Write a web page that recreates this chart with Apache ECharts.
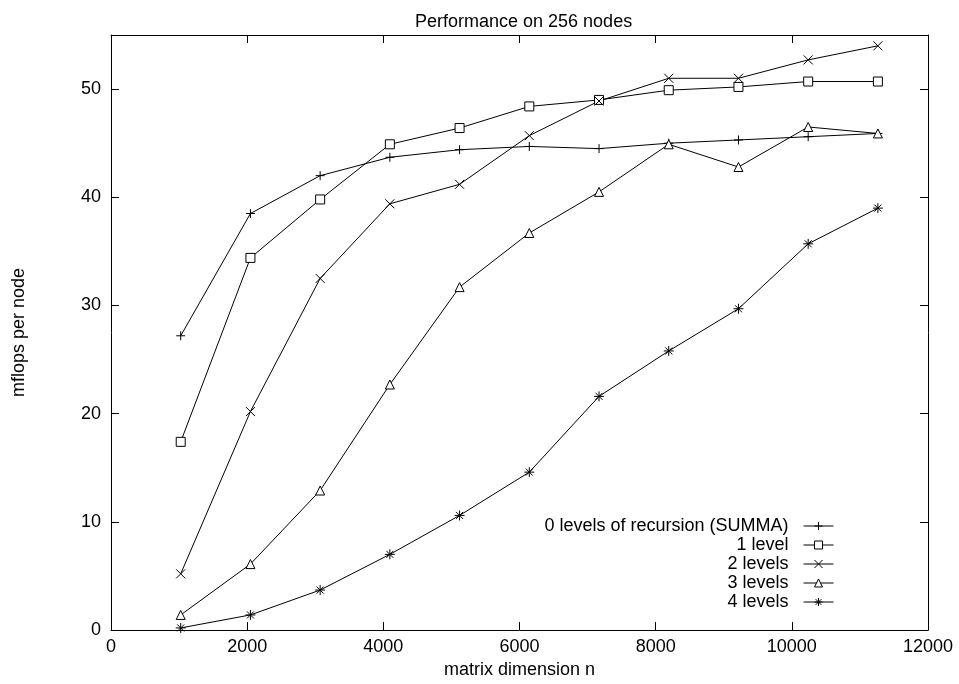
<!DOCTYPE html>
<html>
<head>
<meta charset="utf-8">
<script src="https://cdn.jsdelivr.net/npm/echarts@6/dist/echarts.min.js"></script>
<style>
  html, body { margin: 0; padding: 0; background: #fff; }
  #chart { width: 959px; height: 684px; }
</style>
</head>
<body>
<div id="chart"></div>
<script>
// matrix dimension n
var sizes = [1024, 2048, 3072, 4096, 5120, 6144, 7168, 8192, 9216, 10240, 11264];
// mflops per node
var level0 = [27.2, 38.5, 42.0, 43.7, 44.4, 44.7, 44.5, 45.0, 45.3, 45.6, 45.9];
var level1 = [17.4, 34.4, 39.8, 44.9, 46.4, 48.4, 49.0, 49.9, 50.2, 50.7, 50.7];
var level2 = [5.2, 20.2, 32.5, 39.4, 41.2, 45.7, 48.9, 51.0, 51.0, 52.7, 54.0];
var level3 = [1.4, 6.1, 12.9, 22.7, 31.7, 36.7, 40.5, 44.9, 42.8, 46.5, 45.9];
var level4 = [0.2, 1.4, 3.7, 7.0, 10.6, 14.6, 21.6, 25.8, 29.7, 35.7, 39.0];
var seriesNames = ['0 levels of recursion (SUMMA)', '1 level', '2 levels', '3 levels', '4 levels'];

var font = 'Liberation Sans, Arial, Helvetica, sans-serif';
var fs = 18;

function pts(vals) {
  return sizes.map(function (n, i) { return [n, vals[i]]; });
}

// gnuplot-like point types
var symPlus = 'path://M0,5L10,5M5,0L5,10';
var symSquare = 'path://M0,0L10,0L10,10L0,10Z';
var symCross = 'path://M0,0L10,10M10,0L0,10';
var symTri = 'path://M5,0L10,9L0,9Z';
var symStar = 'path://M0,5L10,5M5,0L5,10M1.5,1.5L8.5,8.5M8.5,1.5L1.5,8.5';

function mkSeries(name, vals, symbol, size, fill) {
  return {
    name: name,
    type: 'line',
    data: pts(vals),
    symbol: symbol,
    symbolSize: size,
    showAllSymbol: true,
    lineStyle: { color: '#000', width: 1 },
    itemStyle: { color: fill, borderColor: '#000', borderWidth: 1 },
    emphasis: { disabled: true },
    animation: false
  };
}

var tickCommon = { inside: true, length: 8, lineStyle: { color: '#000', width: 1 } };
var lineCommon = { show: true, onZero: false, lineStyle: { color: '#000', width: 1 } };

var chart = echarts.init(document.getElementById('chart'));
var option = {
  backgroundColor: '#fff',
  animation: false,
  title: {
    text: 'Performance on 256 nodes',
    left: 410,
    top: 8,
    textStyle: { fontFamily: font, fontSize: fs, fontWeight: 'normal', color: '#000' }
  },
  legend: {
    orient: 'vertical',
    right: 120,
    top: 512,
    align: 'right',
    itemWidth: 30,
    itemHeight: 10,
    itemGap: 1,
    data: seriesNames,
    lineStyle: { width: 1 },
    itemStyle: { borderWidth: 1 },
    textStyle: { fontFamily: font, fontSize: fs, color: '#000', padding: [0, 10, 0, 0] }
  },
  grid: { left: 111, right: 31, top: 35, bottom: 51 },
  xAxis: [{
    type: 'value',
    min: 0,
    max: 12000,
    interval: 2000,
    name: 'matrix dimension n',
    nameLocation: 'middle',
    nameGap: 27,
    nameTextStyle: { fontFamily: font, fontSize: fs, color: '#000' },
    axisLine: lineCommon,
    axisTick: tickCommon,
    axisLabel: {
      fontFamily: font, fontSize: fs, color: '#000', margin: 8,
      formatter: function (v) { return String(v); }
    },
    splitLine: { show: false }
  }, {
    type: 'value',
    position: 'top',
    min: 0,
    max: 12000,
    interval: 2000,
    axisLine: lineCommon,
    axisTick: tickCommon,
    axisLabel: { show: false },
    splitLine: { show: false }
  }],
  yAxis: [{
    type: 'value',
    min: 0,
    max: 55,
    interval: 10,
    name: 'mflops per node',
    nameLocation: 'middle',
    nameGap: 83,
    nameTextStyle: { fontFamily: font, fontSize: fs, color: '#000' },
    axisLine: lineCommon,
    axisTick: tickCommon,
    axisLabel: {
      fontFamily: font, fontSize: fs, color: '#000', margin: 10,
      formatter: function (v) { return v % 10 === 0 ? String(v) : ''; }
    },
    splitLine: { show: false }
  }, {
    type: 'value',
    position: 'right',
    min: 0,
    max: 55,
    interval: 10,
    axisLine: lineCommon,
    axisTick: tickCommon,
    axisLabel: { show: false },
    splitLine: { show: false }
  }],
  series: [
    mkSeries(seriesNames[0], level0, symPlus, 9, '#000'),
    mkSeries(seriesNames[1], level1, symSquare, 9, '#fff'),
    mkSeries(seriesNames[2], level2, symCross, 9, '#000'),
    mkSeries(seriesNames[3], level3, symTri, 9, '#fff'),
    mkSeries(seriesNames[4], level4, symStar, 10, '#000')
  ]
};
chart.setOption(option);
</script>
</body>
</html>
